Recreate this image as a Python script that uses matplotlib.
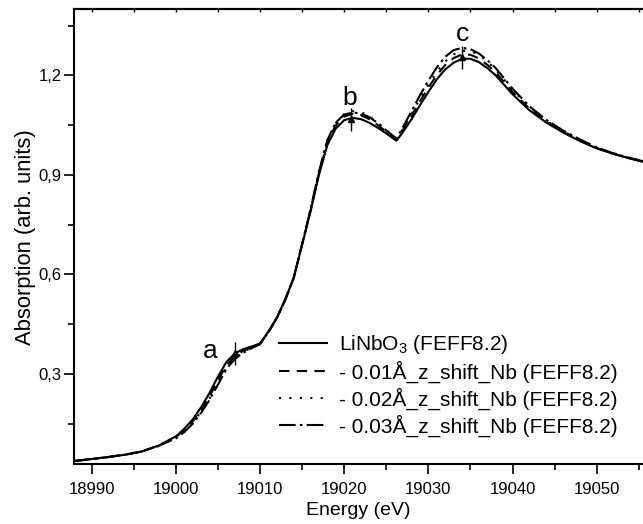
import matplotlib
matplotlib.use("Agg")
import matplotlib.pyplot as plt
from matplotlib.ticker import MultipleLocator, FuncFormatter

plt.rcParams['font.family'] = ['Liberation Sans', 'DejaVu Sans']
plt.rcParams['mathtext.fontset'] = 'custom'
plt.rcParams['mathtext.rm'] = 'Liberation Sans'
plt.rcParams['mathtext.it'] = 'Liberation Sans:italic'

energy = [18988, 18990, 18992, 18994, 18996, 18998, 19000, 19001, 19002, 19003,
          19004, 19005, 19006, 19007, 19008, 19009, 19010, 19011, 19012, 19013,
          19014, 19015, 19016, 19017, 19018, 19019, 19020, 19021, 19022, 19023,
          19024, 19025, 19026.2, 19027, 19028, 19029, 19030, 19031, 19032, 19033,
          19034, 19035, 19036, 19037, 19038, 19040, 19042, 19044, 19046, 19048,
          19050, 19052, 19054, 19056]

linbo3 = [0.038, 0.044, 0.050, 0.057, 0.067, 0.085, 0.112, 0.135, 0.163, 0.200,
          0.243, 0.292, 0.336, 0.362, 0.375, 0.383, 0.392, 0.428, 0.470, 0.525,
          0.590, 0.690, 0.790, 0.900, 0.990, 1.040, 1.065, 1.072, 1.068, 1.057,
          1.042, 1.025, 1.003, 1.030, 1.068, 1.110, 1.150, 1.188, 1.218, 1.238,
          1.250, 1.250, 1.240, 1.222, 1.200, 1.143, 1.095, 1.058, 1.028, 1.002,
          0.980, 0.963, 0.949, 0.936]

shift_001 = [0.038, 0.044, 0.050, 0.057, 0.067, 0.085, 0.110, 0.131, 0.157, 0.192,
             0.233, 0.281, 0.326, 0.354, 0.370, 0.381, 0.391, 0.427, 0.469, 0.524,
             0.589, 0.690, 0.792, 0.905, 0.998, 1.050, 1.076, 1.084, 1.080, 1.068,
             1.050, 1.030, 1.006, 1.036, 1.078, 1.122, 1.163, 1.201, 1.231, 1.252,
             1.263, 1.262, 1.251, 1.232, 1.209, 1.150, 1.100, 1.061, 1.030, 1.004,
             0.981, 0.964, 0.950, 0.937]

shift_002 = [0.038, 0.044, 0.050, 0.057, 0.067, 0.084, 0.108, 0.128, 0.153, 0.187,
             0.227, 0.274, 0.320, 0.349, 0.367, 0.380, 0.391, 0.427, 0.469, 0.524,
             0.590, 0.691, 0.795, 0.908, 1.003, 1.057, 1.083, 1.092, 1.089, 1.077,
             1.057, 1.035, 1.008, 1.040, 1.084, 1.130, 1.172, 1.211, 1.242, 1.263,
             1.274, 1.273, 1.262, 1.242, 1.218, 1.157, 1.105, 1.064, 1.032, 1.006,
             0.982, 0.965, 0.950, 0.937]

shift_003 = [0.038, 0.044, 0.050, 0.057, 0.067, 0.084, 0.106, 0.125, 0.150, 0.183,
             0.222, 0.268, 0.315, 0.345, 0.364, 0.378, 0.390, 0.426, 0.469, 0.524,
             0.590, 0.692, 0.796, 0.910, 1.005, 1.058, 1.082, 1.088, 1.085, 1.074,
             1.056, 1.034, 1.010, 1.045, 1.092, 1.140, 1.184, 1.224, 1.256, 1.276,
             1.283, 1.279, 1.266, 1.246, 1.222, 1.160, 1.107, 1.066, 1.034, 1.007,
             0.983, 0.965, 0.951, 0.938]

labels = ['LiNbO$_3$ (FEFF8.2)',
          '- 0.01Å_z_shift_Nb (FEFF8.2)',
          '- 0.02Å_z_shift_Nb (FEFF8.2)',
          '- 0.03Å_z_shift_Nb (FEFF8.2)']

peak_names = ['a', 'b', 'c']
peak_E = [19007.0, 19020.8, 19034.0]
peak_A = [0.362, 1.068, 1.255]
peak_label_E = [19004.1, 19020.7, 19034.0]
peak_label_A = [0.368, 1.132, 1.325]

W, H = 643, 524
fig = plt.figure(figsize=(W / 100, H / 100), dpi=100)
ax = fig.add_axes([74 / W, (H - 464.3) / H, (W - 74) / W, (464.3 - 9) / H])

lw = 1.5
ax.plot(energy, linbo3, color='k', lw=lw, linestyle='-', label=labels[0])
ax.plot(energy, shift_001, color='k', lw=lw, linestyle=(0, (5, 3.5)), label=labels[1])
ax.plot(energy, shift_002, color='k', lw=lw, linestyle=(0, (1, 4)), label=labels[2])
ax.plot(energy, shift_003, color='k', lw=lw, linestyle=(0, (8, 2, 1.3, 2)), label=labels[3])

ax.errorbar(peak_E, peak_A, yerr=0.035, fmt='^', ms=4.5, color='k',
            elinewidth=1.0, capsize=0)
for name, xe, ya in zip(peak_names, peak_label_E, peak_label_A):
    ax.text(xe, ya, name, fontsize=19, ha='center', va='center')

ax.set_xlim(18987.9, 19055.5)
ax.set_ylim(0.028, 1.40)
ax.xaxis.set_major_locator(MultipleLocator(10))
ax.xaxis.set_minor_locator(MultipleLocator(5))
ax.yaxis.set_major_locator(MultipleLocator(0.3))
ax.yaxis.set_minor_locator(MultipleLocator(0.15))
ax.yaxis.set_major_formatter(FuncFormatter(lambda v, p: f'{v:.1f}'.replace('.', ',')))

for s in ['left', 'bottom', 'top']:
    ax.spines[s].set_linewidth(1.5)
ax.spines['right'].set_visible(False)
ax.tick_params(axis='both', which='major', direction='out', length=7, width=1.2,
               labelsize=12, top=False, right=False)
ax.tick_params(axis='both', which='minor', direction='out', length=4, width=1.2,
               top=False, right=False)
ax.tick_params(axis='x', pad=6)
ax.tick_params(axis='y', pad=2)

sec = ax.secondary_xaxis('top')
sec.xaxis.set_major_locator(MultipleLocator(5))
sec.tick_params(direction='in', length=2, width=1, labeltop=False)
sec.spines['top'].set_linewidth(1.5)

ax.set_xlabel('Energy (eV)', fontsize=14, labelpad=3)
ax.set_ylabel('Absorption (arb. units)', fontsize=15.8, labelpad=2)

leg = ax.legend(loc='upper left', bbox_to_anchor=(279 / W, 1 - 333 / H),
                bbox_transform=fig.transFigure, frameon=False, fontsize=15,
                handlelength=2.3, handletextpad=0.6, borderpad=0, borderaxespad=0,
                labelspacing=0.22)

fig.savefig('out.png', dpi=100)
